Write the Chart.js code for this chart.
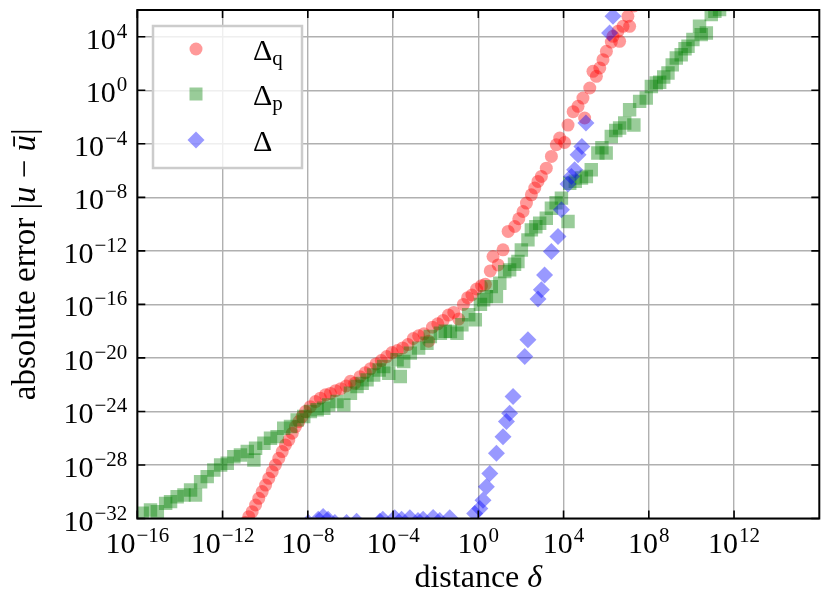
<!DOCTYPE html>
<html>
<head>
<meta charset="utf-8">
<script src="https://cdn.jsdelivr.net/npm/chart.js@4.4.1/dist/chart.umd.min.js"></script>
<style>
html, body { margin: 0; padding: 0; background: #fff; }
#wrap { width: 830px; height: 607px; }
</style>
</head>
<body>
<div id="wrap"><canvas id="errPlot" width="830" height="607"></canvas></div>
<script>
// values are log10(distance) / log10(|u - ubar|)

// Delta_q
var qLogDist = [-11.3,-11.1,-10.93,-10.77,-10.61,-10.45,-10.3,-10.14,-9.98,-9.83,-9.67,-9.52,-9.36,-9.2,-9.05,-8.89,-8.73,-8.58,-8.42,-8.27,-8.11,-7.88,-7.64,-7.41,-7.17,-6.94,-6.7,-6.45,-6.2,-6.0,-5.8,-5.55,-5.3,-5.06,-4.8,-4.55,-4.3,-4.05,-3.8,-3.55,-3.3,-3.05,-2.8,-2.55,-2.33,-2.15,-1.9,-1.65,-1.4,-1.15,-0.92,-0.7,-0.5,-0.3,-0.08,0.15,0.33,0.56,0.69,0.93,1.16,1.4,1.71,1.9,2.1,2.26,2.49,2.65,2.8,2.96,3.19,3.43,3.66,3.82,4.05,4.21,4.45,4.68,4.91,4.99,5.23,5.38,5.54,5.7,5.85,6.01,6.24,6.32,6.55,6.63,6.79,7.02,7.1,7.3,7.5];
var qLogErr = [-33.4,-32.8,-32.3,-31.86,-31.49,-30.99,-30.49,-29.99,-29.5,-29.0,-28.5,-28.0,-27.5,-27.0,-26.5,-26.13,-25.63,-25.13,-24.76,-24.38,-24.01,-23.64,-23.26,-23.01,-22.76,-22.65,-22.45,-22.3,-22.1,-21.75,-21.9,-21.4,-21.1,-20.8,-20.45,-20.2,-19.9,-19.6,-19.45,-19.25,-19.0,-18.55,-18.35,-18.2,-18.75,-17.7,-17.45,-17.2,-16.8,-16.6,-17.1,-16.0,-15.5,-15.3,-14.85,-14.6,-14.5,-13.5,-12.42,-13.05,-11.92,-10.55,-10.18,-9.6,-9.06,-8.43,-7.81,-7.3,-6.81,-6.44,-5.82,-4.94,-4.07,-3.57,-3.9,-2.6,-1.6,-1.2,-0.58,-2.07,0.17,1.42,1.04,1.67,2.29,2.91,3.6,4.03,4.41,3.66,4.78,5.53,4.78,6.3,6.8];

// Delta_p
var pLogDist = [-15.77,-15.38,-15.06,-14.67,-14.44,-14.13,-13.81,-13.5,-13.27,-13.03,-12.72,-12.41,-12.09,-11.78,-11.47,-11.16,-10.84,-10.53,-10.45,-10.06,-9.75,-9.44,-9.13,-8.81,-8.5,-8.19,-7.88,-7.56,-7.25,-7.02,-6.63,-6.31,-6.0,-5.69,-5.45,-5.22,-4.91,-4.65,-4.44,-4.2,-3.81,-3.66,-3.5,-3.19,-2.8,-2.41,-2.25,-1.78,-1.55,-1.31,-1.0,-0.77,-0.45,-0.14,0.1,0.25,0.38,0.61,0.85,1.01,1.24,1.47,1.7,1.86,2.02,2.33,2.49,2.7,2.88,3.19,3.43,3.65,3.9,4.21,4.29,4.55,4.84,5.07,5.3,5.61,5.8,6.0,6.24,6.45,6.63,6.87,7.1,7.3,7.57,7.88,8.12,8.35,8.51,8.7,8.9,9.1,9.29,9.52,9.7,9.84,10.07,10.38,10.46,10.7,10.93,11.1,11.32,11.5];
var pLogErr = [-31.6,-31.37,-31.49,-30.87,-30.74,-30.37,-30.24,-29.87,-30.24,-29.25,-28.87,-28.37,-28.0,-27.87,-27.38,-27.25,-27.0,-27.63,-26.75,-26.38,-26.0,-25.88,-25.26,-25.13,-24.63,-24.38,-24.01,-23.88,-23.76,-23.51,-23.26,-23.51,-22.64,-22.14,-21.9,-21.64,-21.27,-20.9,-20.64,-21.14,-20.14,-21.39,-20.27,-19.64,-19.27,-18.9,-18.4,-18.15,-18.0,-18.02,-18.15,-17.52,-16.78,-17.15,-16.0,-15.65,-15.42,-14.67,-15.42,-14.42,-13.55,-13.42,-13.0,-12.8,-11.93,-11.18,-10.43,-10.2,-9.93,-9.56,-8.81,-8.4,-8.06,-9.81,-6.94,-6.8,-6.56,-6.44,-5.94,-4.69,-4.3,-4.69,-3.45,-3.0,-2.82,-2.45,-1.45,-2.6,-0.83,-0.58,0.29,0.54,0.6,1.0,1.29,1.9,2.41,2.66,3.1,3.29,3.79,4.78,4.16,4.28,5.66,5.9,6.03,6.4];

// Delta
var dLogDist = [-9.5,-8.6,-7.98,-7.51,-7.28,-7.05,-6.73,-6.18,-5.71,-5.2,-4.62,-4.48,-3.92,-3.6,-3.21,-2.83,-2.59,-2.12,-1.81,-1.34,-0.8,-0.17,0.07,0.22,0.38,0.54,0.85,1.16,1.32,1.47,1.63,2.18,2.33,2.8,2.96,3.11,3.43,3.74,3.9,4.21,4.37,4.52,4.68,4.86,5.05,6.16,6.32,6.5];
var dLogErr = [-33.0,-32.6,-32.3,-32.05,-31.85,-32.05,-32.3,-32.3,-32.2,-32.8,-32.2,-32.05,-31.95,-32.05,-31.95,-32.15,-32.05,-31.93,-32.15,-31.95,-32.7,-31.62,-31.25,-30.63,-29.63,-28.63,-27.13,-25.89,-24.76,-24.14,-22.89,-19.9,-18.65,-15.6,-14.91,-13.8,-12.05,-10.93,-8.93,-7.0,-6.44,-5.94,-4.82,-4.2,-2.45,4.28,5.53,6.6];

// tick exponents
var xTickExp = [-16, -12, -8, -4, 0, 4, 8, 12];
var yTickExp = [-32, -28, -24, -20, -16, -12, -8, -4, 0, 4];

var seriesNames = ['Δ', 'Δ', 'Δ'];
var seriesSubs = ['q', 'p', ''];
var seriesColors = ['rgba(255,0,0,0.4)', 'rgba(0,128,0,0.4)', 'rgba(0,0,255,0.4)'];

var SERIF = '"Liberation Serif", "Times New Roman", serif';

function toPoints(lx, ly) {
  return lx.map(function (e, i) { return { x: Math.pow(10, e), y: Math.pow(10, ly[i]) }; });
}

function supLabel(ctx, exp, x, baseY, align) {
  var main = '10';
  var sup = exp < 0 ? '\u2212' + Math.abs(exp) : String(exp);
  ctx.font = '30px ' + SERIF;
  var w1 = ctx.measureText(main).width;
  ctx.font = '21px ' + SERIF;
  var w2 = ctx.measureText(sup).width;
  var start = align === 'right' ? x - w1 - w2 - 1 : x - (w1 + w2 + 1) / 2;
  ctx.textAlign = 'left';
  ctx.textBaseline = 'alphabetic';
  ctx.font = '30px ' + SERIF;
  ctx.fillText(main, start, baseY);
  ctx.font = '21px ' + SERIF;
  ctx.fillText(sup, start + w1 + 1, baseY - 11);
}

function drawRuns(ctx, runs, x, y) {
  var cx = x;
  runs.forEach(function (r) {
    ctx.font = (r.it ? 'italic ' : '') + r.size + 'px ' + SERIF;
    ctx.fillText(r.t, cx, y + (r.dy || 0));
    cx += ctx.measureText(r.t).width;
  });
  return cx - x;
}

function runsWidth(ctx, runs) {
  var w = 0;
  runs.forEach(function (r) {
    ctx.font = (r.it ? 'italic ' : '') + r.size + 'px ' + SERIF;
    w += ctx.measureText(r.t).width;
  });
  return w;
}

var decor = {
  id: 'decor',
  afterDraw: function (chart) {
    var ctx = chart.ctx, a = chart.chartArea;
    var xs = chart.scales.x, ys = chart.scales.y;
    ctx.save();
    ctx.fillStyle = '#000';
    ctx.strokeStyle = '#000';

    // inward ticks on all four sides
    ctx.lineWidth = 1.6;
    ctx.beginPath();
    xTickExp.forEach(function (e) {
      var px = xs.getPixelForValue(Math.pow(10, e));
      ctx.moveTo(px, a.bottom); ctx.lineTo(px, a.bottom - 8);
      ctx.moveTo(px, a.top); ctx.lineTo(px, a.top + 8);
    });
    yTickExp.forEach(function (e) {
      var py = ys.getPixelForValue(Math.pow(10, e));
      ctx.moveTo(a.left, py); ctx.lineTo(a.left + 8, py);
      ctx.moveTo(a.right, py); ctx.lineTo(a.right - 8, py);
    });
    ctx.stroke();

    // frame
    ctx.lineWidth = 2;
    ctx.strokeRect(a.left, a.top, a.right - a.left, a.bottom - a.top);

    // tick labels
    xTickExp.forEach(function (e) {
      var px = xs.getPixelForValue(Math.pow(10, e));
      supLabel(ctx, e, px, a.bottom + 34, 'center');
    });
    yTickExp.forEach(function (e) {
      var py = ys.getPixelForValue(Math.pow(10, e));
      supLabel(ctx, e, a.left - 10, py + 12, 'right');
    });

    // axis titles
    ctx.textAlign = 'left';
    ctx.textBaseline = 'alphabetic';
    var xRuns = [{ t: 'distance ', size: 32 }, { t: 'δ', size: 32, it: true }];
    var xw = runsWidth(ctx, xRuns);
    drawRuns(ctx, xRuns, (a.left + a.right) / 2 - xw / 2, 587);

    var yRuns = [
      { t: 'absolute error |', size: 33 },
      { t: 'u', size: 33, it: true },
      { t: ' \u2212 ', size: 33 },
      { t: 'ū', size: 33, it: true },
      { t: '|', size: 33 }
    ];
    var yw = runsWidth(ctx, yRuns);
    ctx.save();
    ctx.translate(35, (a.top + a.bottom) / 2);
    ctx.rotate(-Math.PI / 2);
    drawRuns(ctx, yRuns, -yw / 2, 0);
    ctx.restore();

    // legend
    var lx = 153, ly = 26, lw = 149, lh = 142;
    ctx.fillStyle = 'rgba(255,255,255,0.8)';
    ctx.fillRect(lx, ly, lw, lh);
    ctx.strokeStyle = '#cccccc';
    ctx.lineWidth = 2.5;
    ctx.strokeRect(lx, ly, lw, lh);
    var rowY = [49, 94, 140];
    var mx = 196;
    // circle
    ctx.fillStyle = seriesColors[0];
    ctx.beginPath(); ctx.arc(mx, rowY[0], 6.5, 0, Math.PI * 2); ctx.fill();
    // square
    ctx.fillStyle = seriesColors[1];
    ctx.fillRect(mx - 6.5, rowY[1] - 6.5, 13, 13);
    // diamond
    ctx.fillStyle = seriesColors[2];
    ctx.beginPath();
    ctx.moveTo(mx - 8.5, rowY[2]); ctx.lineTo(mx, rowY[2] - 8.5);
    ctx.lineTo(mx + 8.5, rowY[2]); ctx.lineTo(mx, rowY[2] + 8.5);
    ctx.closePath(); ctx.fill();

    ctx.fillStyle = '#000';
    seriesNames.forEach(function (n, i) {
      var runs = [{ t: n, size: 30 }];
      if (seriesSubs[i]) runs.push({ t: seriesSubs[i], size: 21, dy: 5 });
      drawRuns(ctx, runs, 253, rowY[i] + 10.5);
    });

    ctx.restore();
  }
};

var gridOpts = { color: '#b0b0b0', lineWidth: 1.4, drawTicks: false };

new Chart(document.getElementById('errPlot').getContext('2d'), {
  type: 'scatter',
  data: {
    datasets: [
      {
        label: 'Δq',
        data: toPoints(qLogDist, qLogErr),
        pointStyle: 'circle',
        pointRadius: 6.5,
        pointBackgroundColor: seriesColors[0],
        backgroundColor: seriesColors[0],
        pointBorderWidth: 0,
        borderWidth: 0,
        order: 3,
        clip: 0
      },
      {
        label: 'Δp',
        data: toPoints(pLogDist, pLogErr),
        pointStyle: 'rect',
        pointRadius: 9.5,
        pointBackgroundColor: seriesColors[1],
        backgroundColor: seriesColors[1],
        pointBorderWidth: 0,
        borderWidth: 0,
        order: 2,
        clip: 0
      },
      {
        label: 'Δ',
        data: toPoints(dLogDist, dLogErr),
        pointStyle: 'rectRot',
        pointRadius: 8.5,
        pointBackgroundColor: seriesColors[2],
        backgroundColor: seriesColors[2],
        pointBorderWidth: 0,
        borderWidth: 0,
        order: 1,
        clip: 0
      }
    ]
  },
  options: {
    responsive: false,
    animation: false,
    layout: { padding: { left: 0, top: 10, right: 10.7, bottom: 0 } },
    plugins: { legend: { display: false }, tooltip: { enabled: false } },
    scales: {
      x: {
        type: 'logarithmic',
        min: 1e-16,
        max: 1e16,
        afterBuildTicks: function (s) { s.ticks = xTickExp.map(function (e) { return { value: Math.pow(10, e) }; }); },
        afterFit: function (s) { s.height = 88.5; },
        ticks: { display: false },
        grid: gridOpts,
        border: { display: false }
      },
      y: {
        type: 'logarithmic',
        min: 1e-32,
        max: 1e6,
        afterBuildTicks: function (s) { s.ticks = yTickExp.map(function (e) { return { value: Math.pow(10, e) }; }); },
        afterFit: function (s) { s.width = 137.3; },
        ticks: { display: false },
        grid: gridOpts,
        border: { display: false }
      }
    }
  },
  plugins: [decor]
});
</script>
</body>
</html>
